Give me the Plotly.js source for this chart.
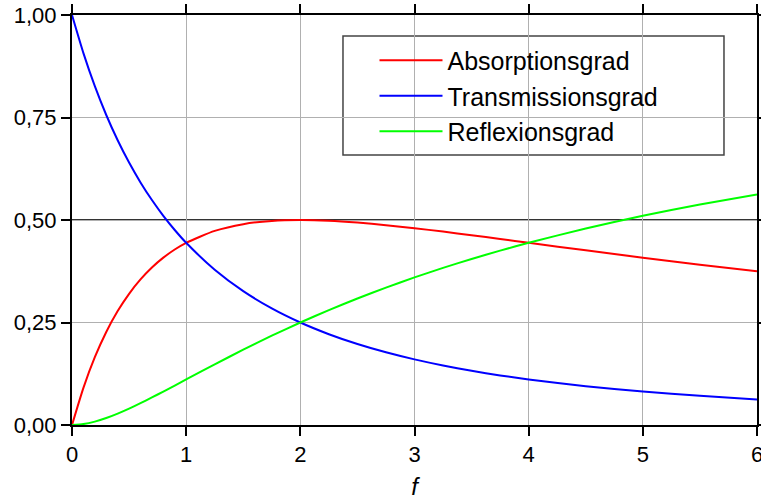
<!DOCTYPE html>
<html>
<head>
<meta charset="utf-8">
<script src="https://cdn.plot.ly/plotly-3.0.1.min.js"></script>
<style>html,body{margin:0;padding:0;background:#fff}#chart{width:761px;height:501px}</style>
</head>
<body>
<div id="chart"></div>
<script>
const fValues = [0, 0.1, 0.2, 0.3, 0.4, 0.5, 0.6, 0.7, 0.8, 0.9, 1.0, 1.25, 1.5, 1.75, 2.0, 2.25, 2.5, 2.75, 3.0, 3.25, 3.5, 3.75, 4.0, 4.5, 5.0, 5.5, 6.0];
const absorption = [0, 0.0907, 0.1653, 0.2268, 0.2778, 0.32, 0.3550, 0.3841, 0.4082, 0.4281, 0.4444, 0.4734, 0.4898, 0.4978, 0.5, 0.4983, 0.4938, 0.4875, 0.48, 0.4717, 0.4628, 0.4537, 0.4444, 0.4260, 0.4082, 0.3911, 0.375];
const transmission = [1, 0.9070, 0.8264, 0.7561, 0.6944, 0.64, 0.5917, 0.5487, 0.5102, 0.4756, 0.4444, 0.3787, 0.3265, 0.2844, 0.25, 0.2215, 0.1975, 0.1773, 0.16, 0.1451, 0.1322, 0.1210, 0.1111, 0.0947, 0.0816, 0.0711, 0.0625];
const reflection = [0, 0.0023, 0.0083, 0.0170, 0.0278, 0.04, 0.0533, 0.0672, 0.0816, 0.0963, 0.1111, 0.1479, 0.1837, 0.2178, 0.25, 0.2803, 0.3086, 0.3352, 0.36, 0.3832, 0.4050, 0.4253, 0.4444, 0.4793, 0.5102, 0.5378, 0.5625];
const seriesNames = ["Absorptionsgrad", "Transmissionsgrad", "Reflexionsgrad"];
const seriesColors = ["#ff0000", "#0000ff", "#00ff00"];
const xTickVals = [0, 1, 2, 3, 4, 5, 6];
const yTickVals = [0, 0.25, 0.5, 0.75, 1.0];
const yTickText = ["0,00", "0,25", "0,50", "0,75", "1,00"];

const FONT = "Liberation Sans, Arial, sans-serif";
const ys = [absorption, transmission, reflection];
const traces = ys.map((y, i) => ({
  x: fValues, y: y, type: "scatter", mode: "lines", name: seriesNames[i],
  line: {color: seriesColors[i], width: 2, shape: "spline", smoothing: 0.6}
}));

const layout = {
  width: 761, height: 501,
  margin: {l: 72, r: 4, t: 15, b: 76},
  paper_bgcolor: "#fff", plot_bgcolor: "#fff",
  font: {family: FONT, color: "#000", size: 21},
  showlegend: true,
  legend: {
    x: 0.4416, y: 0.945, xanchor: "left", yanchor: "top",
    borderwidth: 0, bgcolor: "rgba(0,0,0,0)",
    font: {family: FONT, size: 25, color: "#000"},
    itemwidth: 63, tracegroupgap: 0
  },
  xaxis: {
    range: [0, 6], tickvals: xTickVals, ticktext: xTickVals.map(String),
    showgrid: true, gridcolor: "#b0b0b0", gridwidth: 1,
    showline: true, linecolor: "#000", linewidth: 2, mirror: "ticks",
    ticks: "outside", ticklen: 9, tickwidth: 2, tickcolor: "#000",
    zeroline: false, tickfont: {size: 22}, ticklabeloverflow: "allow",
    title: {text: "<i>f</i>", font: {size: 24}, standoff: 12}
  },
  yaxis: {
    range: [0, 1], tickvals: yTickVals, ticktext: yTickText,
    showgrid: true, gridcolor: "#b0b0b0", gridwidth: 1,
    showline: true, linecolor: "#000", linewidth: 2, mirror: "ticks",
    ticks: "outside", ticklen: 9, tickwidth: 2, tickcolor: "#000",
    zeroline: false, tickfont: {size: 22}
  },
  shapes: [
    {
      type: "line", xref: "paper", yref: "y", x0: 0, x1: 1, y0: 0.5, y1: 0.5,
      line: {color: "#333", width: 2}, layer: "between"
    },
    {
      type: "rect", xref: "paper", yref: "paper", x0: 0.3956, x1: 0.9518, y0: 0.6585, y1: 0.9488,
      line: {color: "#444", width: 1.5}, fillcolor: "#fff", layer: "between"
    }
  ]
};
Plotly.newPlot("chart", traces, layout, {displayModeBar: false, staticPlot: true});
</script>
</body>
</html>
